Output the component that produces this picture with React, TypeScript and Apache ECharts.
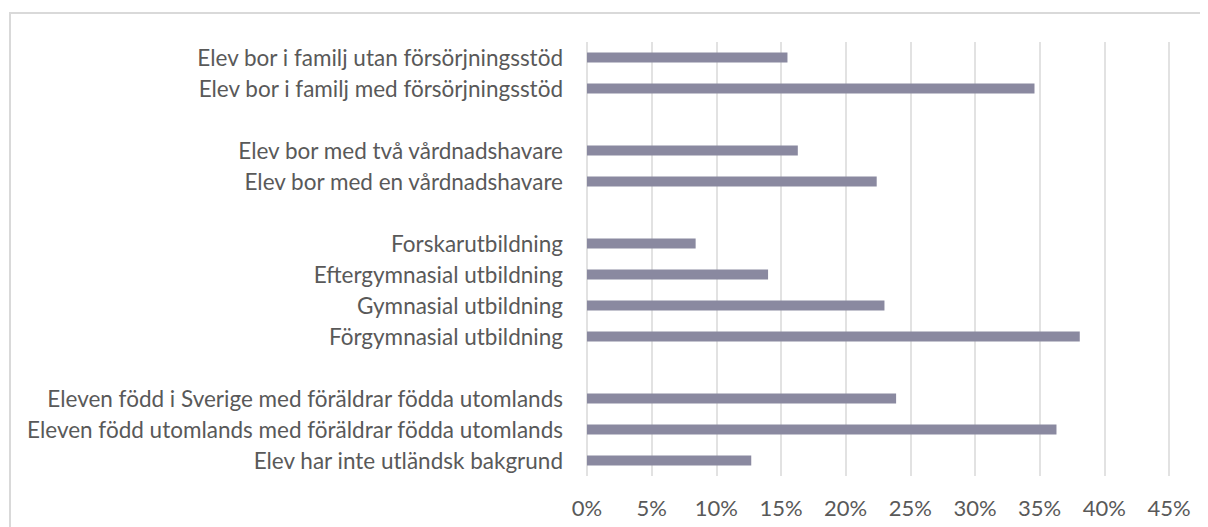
import React, { useEffect, useRef } from "react";
import * as echarts from "echarts";

const categories: string[] = [
  "Elev bor i familj utan försörjningsstöd",
  "Elev bor i familj med försörjningsstöd",
  " ",
  "Elev bor med två vårdnadshavare",
  "Elev bor med en vårdnadshavare",
  "  ",
  "Forskarutbildning",
  "Eftergymnasial utbildning",
  "Gymnasial utbildning",
  "Förgymnasial utbildning",
  "   ",
  "Eleven född i Sverige med föräldrar födda utomlands",
  "Eleven född utomlands med föräldrar födda utomlands",
  "Elev har inte utländsk bakgrund",
];

const values: (number | null)[] = [
  15.5, 34.6, null, 16.3, 22.4, null, 8.4, 14.0, 23.0, 38.1, null, 23.9, 36.3, 12.7,
];

const xTicks: number[] = [0, 5, 10, 15, 20, 25, 30, 35, 40, 45];

const FONT = "Lato";
const TEXT = "#595959";

export default function App() {
  const ref = useRef<HTMLDivElement>(null);
  useEffect(() => {
    if (!ref.current) return;
    const chart = echarts.init(ref.current, undefined, { renderer: "svg" });
    chart.setOption({
      animation: false,
      backgroundColor: "#ffffff",
      graphic: [
        {
          type: "rect",
          shape: { x: 2, y: 5, width: 1400, height: 1000 },
          style: { fill: "none", stroke: "#D9D9D9", lineWidth: 2 },
          silent: true,
        },
      ],
      grid: { left: 579, top: 34, width: 582, height: 434, containLabel: false },
      xAxis: {
        type: "value",
        min: xTicks[0],
        max: xTicks[xTicks.length - 1],
        interval: 5,
        axisLine: { show: false },
        axisTick: { show: false },
        splitLine: { show: true, lineStyle: { color: "#D9D9D9", width: 1.5 } },
        axisLabel: {
          formatter: "{value}%",
          color: TEXT,
          fontFamily: FONT,
          fontSize: 22,
          margin: 20,
        },
      },
      yAxis: {
        type: "category",
        inverse: true,
        data: categories,
        axisLine: { show: false },
        axisTick: { show: false },
        splitLine: { show: false },
        axisLabel: {
          interval: 0,
          color: TEXT,
          fontFamily: FONT,
          fontSize: 22.5,
          margin: 24,
        },
      },
      series: [
        {
          type: "bar",
          data: values,
          barWidth: 10,
          itemStyle: { color: "#8A89A0" },
        },
      ],
    });
    return () => chart.dispose();
  }, []);
  return <div ref={ref} style={{ width: 1200, height: 519 }} />;
}
